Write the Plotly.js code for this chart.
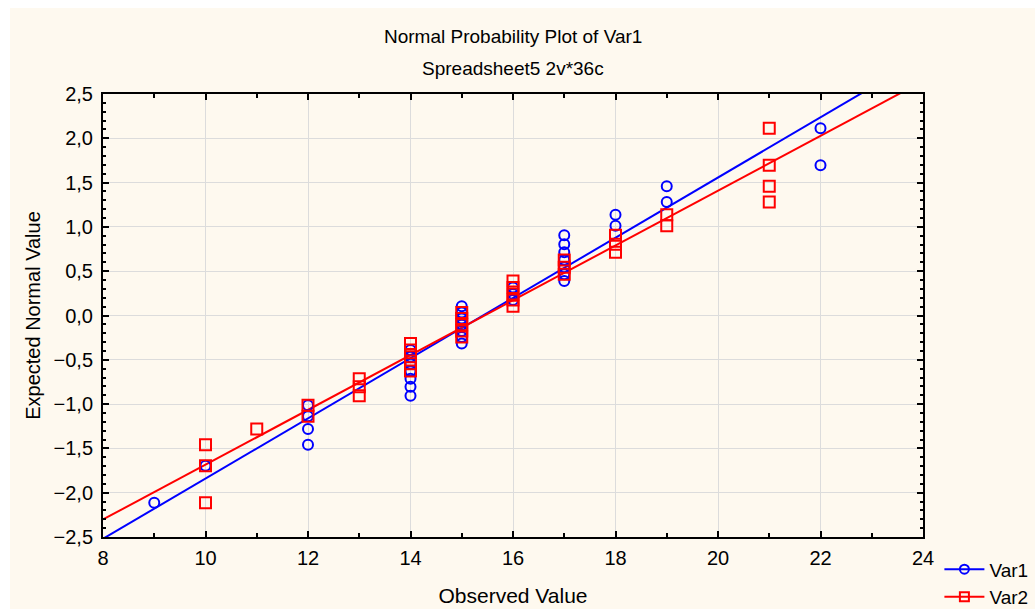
<!DOCTYPE html>
<html>
<head>
<meta charset="utf-8">
<script src="https://cdn.plot.ly/plotly-3.0.1.min.js"></script>
<style>html,body{margin:0;padding:0;background:#fff;}#chart{width:1035px;height:609px;}</style>
</head>
<body>
<div id="chart"></div>
<script>
const var1Observed = [9,10,12,12,12,12,14,14,14,14,14,14,14,15,15,15,15,15,15,15,16,16,16,17,17,17,17,17,17,17,18,18,19,19,22,22];
const var2Observed = [10,10,10,11,12,12,13,13,13,14,14,14,14,14,15,15,15,15,15,16,16,16,16,16,17,17,17,18,18,18,19,19,21,21,21,21];
const expectedNormal = [-2.114,-1.697,-1.458,-1.282,-1.138,-1.014,-0.905,-0.805,-0.713,-0.627,-0.545,-0.466,-0.390,-0.316,-0.244,-0.174,-0.104,-0.035,
                        0.035,0.104,0.174,0.244,0.316,0.390,0.466,0.545,0.627,0.713,0.805,0.905,1.014,1.138,1.282,1.458,1.697,2.114];
const xTickVals = [8,10,12,14,16,18,20,22,24];

function fitLine(xs, ys) {
  const n = xs.length;
  const mx = xs.reduce((a,b)=>a+b,0)/n, my = ys.reduce((a,b)=>a+b,0)/n;
  let sxy=0, sxx=0;
  for (let i=0;i<n;i++){ sxy += (xs[i]-mx)*(ys[i]-my); sxx += (xs[i]-mx)*(xs[i]-mx); }
  const b = sxy/sxx, a = my - b*mx;
  return {x:[8,24], y:[a+b*8, a+b*24]};
}
const f1 = fitLine(var1Observed, expectedNormal);
const f2 = fitLine(var2Observed, expectedNormal);

const BLUE = '#0000ff', RED = '#ff0000';
const traces = [
  {x:f1.x, y:f1.y, mode:'lines', line:{color:BLUE, width:2}, showlegend:false, hoverinfo:'skip'},
  {x:f2.x, y:f2.y, mode:'lines', line:{color:RED, width:2}, showlegend:false, hoverinfo:'skip'},
  {x:var1Observed, y:expectedNormal, mode:'markers', name:'Var1', showlegend:false,
   marker:{symbol:'circle-open', size:10, color:BLUE, line:{width:2, color:BLUE}}},
  {x:var2Observed, y:expectedNormal, mode:'markers', name:'Var2', showlegend:false,
   marker:{symbol:'square-open', size:11, color:RED, line:{width:2, color:RED}}},
  {x:[null], y:[null], mode:'lines+markers', name:'Var1', line:{color:BLUE,width:2},
   marker:{symbol:'circle-open', size:9, color:BLUE, line:{width:2,color:BLUE}}},
  {x:[null], y:[null], mode:'lines+markers', name:'Var2', line:{color:RED,width:2},
   marker:{symbol:'square-open', size:9, color:RED, line:{width:2,color:RED}}}
];

const FONT = 'Liberation Sans, Arial, sans-serif';
const layout = {
  width:1035, height:609,
  paper_bgcolor:'#ffffff', plot_bgcolor:'#ffffff',
  margin:{l:103, r:112, t:94, b:72, autoexpand:false},
  font:{family:FONT, size:20, color:'#000'},
  separators:', ',
  showlegend:true,
  legend:{x:1.02, xanchor:'left', y:-0.03, yanchor:'top', bgcolor:'rgba(0,0,0,0)',
          font:{family:FONT, size:19}, tracegroupgap:0, itemwidth:40},
  xaxis:{range:[8,24], tickvals:xTickVals, ticks:'inside', ticklen:6, tickwidth:2, tickcolor:'#000',
         showline:true, linecolor:'#000', linewidth:2, mirror:'allticks',
         showgrid:true, gridcolor:'#dcdcdc', gridwidth:1, zeroline:false,
         minor:{dtick:1, ticks:'inside', ticklen:4, tickwidth:2, tickcolor:'#000', showgrid:false},
         tickfont:{family:FONT, size:20}, ticklabelstandoff:2,
         title:{text:'Observed Value', font:{family:FONT, size:21}, standoff:20}},
  yaxis:{range:[-2.5,2.5], dtick:0.5, tick0:-2.5, tickformat:'.1f', ticks:'inside', ticklen:6, tickwidth:2, tickcolor:'#000',
         showline:true, linecolor:'#000', linewidth:2, mirror:'allticks',
         showgrid:true, gridcolor:'#dcdcdc', gridwidth:1, zeroline:false,
         minor:{dtick:0.1, ticks:'inside', ticklen:3, tickwidth:2, tickcolor:'#000', showgrid:false},
         tickfont:{family:FONT, size:20}, ticklabelstandoff:4,
         title:{text:'Expected Normal Value', font:{family:FONT, size:20}, standoff:8}},
  shapes:[{type:'rect', xref:'paper', yref:'paper', x0:-0.1134, x1:1.1366, y0:-0.1625, y1:1.1941,
           fillcolor:'#fef9ef', line:{width:0}, layer:'below'}],
  annotations:[
    {text:'Normal Probability Plot of Var1', xref:'paper', yref:'paper', x:0.5, y:1+(94-37)/443, xanchor:'center', yanchor:'middle', showarrow:false, font:{family:FONT, size:19}},
    {text:'Spreadsheet5 2v*36c', xref:'paper', yref:'paper', x:0.5, y:1+(94-69)/443, xanchor:'center', yanchor:'middle', showarrow:false, font:{family:FONT, size:19}}
  ]
};
Plotly.newPlot('chart', traces, layout, {staticPlot:true, displayModeBar:false});
</script>
</body>
</html>
